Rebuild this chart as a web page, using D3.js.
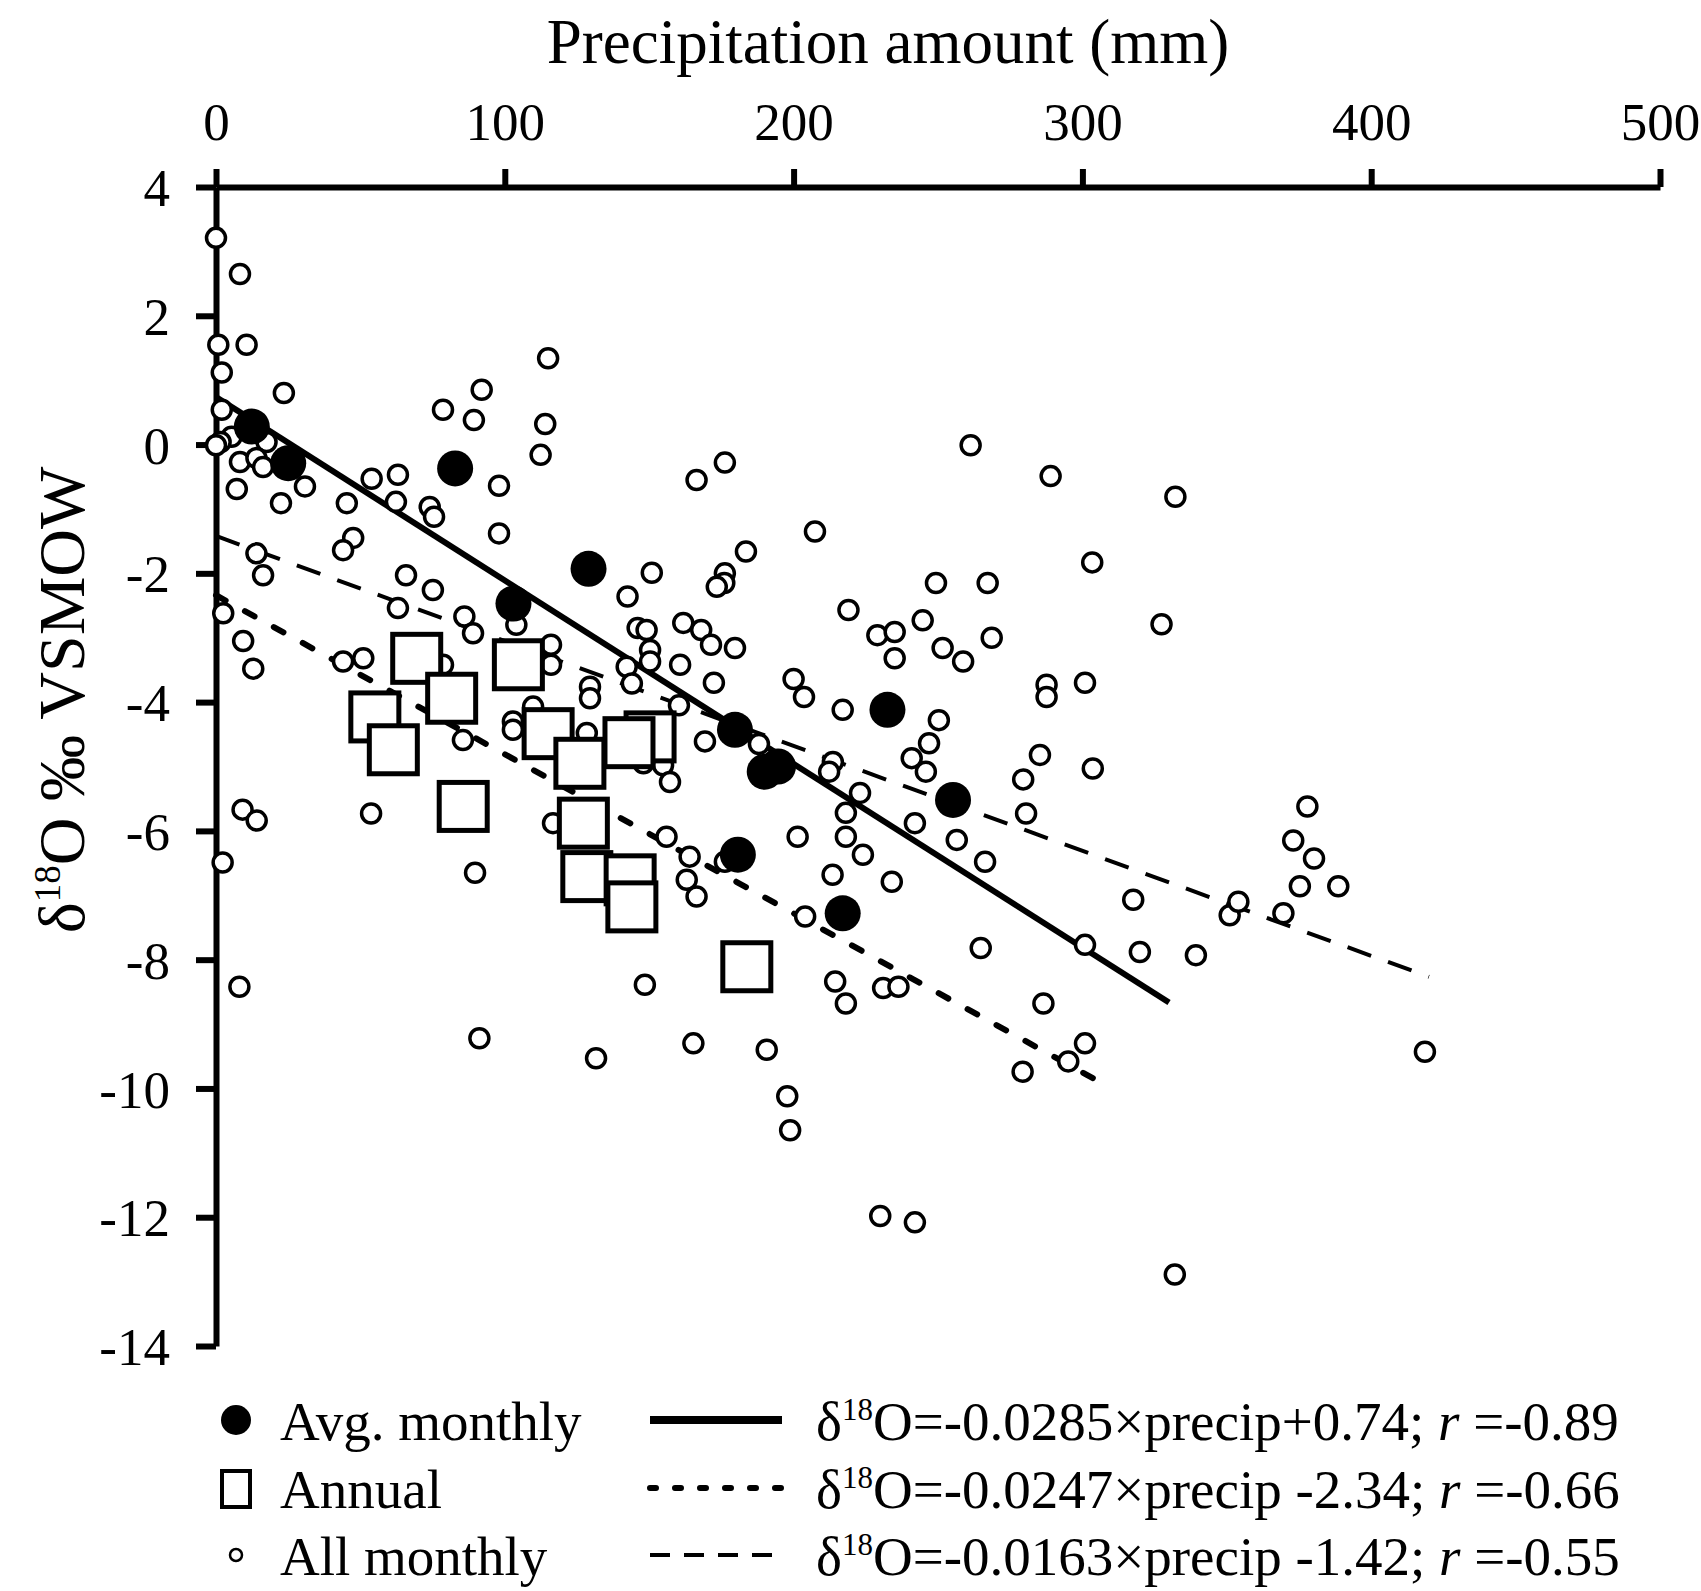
<!DOCTYPE html>
<html>
<head>
<meta charset="utf-8">
<script src="https://cdn.jsdelivr.net/npm/d3@7"></script>
<style>
  body { margin: 0; background: #fff; }
  svg { display: block; font-family: "Liberation Serif", "Times New Roman", serif; }
</style>
</head>
<body>
<svg id="chart" width="1701" height="1591"></svg>
<script>
// data: [precip mm, d18O permil]
const avgMonthly = [
  [12.4, 0.28], [25, -0.29], [82.8, -0.37], [129, -1.93], [103, -2.47],
  [179.7, -4.43], [190, -5.08], [194.6, -5.0], [232.5, -4.12], [255.2, -5.52],
  [180.7, -6.37], [217, -7.28]
];

const annual = [
  [69.5, -3.32], [81.6, -3.94], [104.7, -3.42], [55, -4.23], [61.4, -4.74],
  [85.6, -5.62], [115, -4.49], [126, -4.95], [127.2, -5.88], [150.3, -4.54],
  [143, -4.63], [128.4, -6.71], [143.4, -6.76], [144, -7.18], [183.8, -8.11]
];

const allMonthly = [
  [0, 3.21], [8.3, 2.65], [0.8, 1.55], [10.6, 1.55], [2, 1.12], [23.5, 0.80], [2, 0.54],
  [5.4, 0.12], [1.6, 0.04], [0, -0.01], [17.5, 0.04], [8.3, -0.27], [14, -0.21], [16.3, -0.35],
  [7.2, -0.69], [30.8, -0.65], [22.5, -0.91], [14, -1.69], [16.3, -2.03], [2.5, -2.62],
  [9.4, -3.05], [12.9, -3.48], [9.2, -5.67], [14.1, -5.84], [2.3, -6.49], [8.1, -8.42],
  [45.3, -0.91], [53.9, -0.53], [63, -0.47], [62.3, -0.89], [74, -0.97], [75.5, -1.12],
  [78.6, 0.54], [92, 0.85], [89.3, 0.38], [98, -0.64], [98, -1.38], [47.5, -1.45], [44, -1.64],
  [65.8, -2.03], [75.1, -2.26], [63, -2.54], [86, -2.67], [89, -2.93], [44, -3.37], [51, -3.32],
  [78.6, -3.42], [85.5, -4.59], [53.7, -5.73], [89.7, -6.65], [91.2, -9.22],
  [115, 1.34], [114, 0.32], [112.4, -0.16], [104, -2.80], [116, -3.11], [116, -3.42],
  [129.5, -3.76], [129.5, -3.94], [109.8, -4.07], [102.8, -4.30], [102.8, -4.43], [128.4, -4.48],
  [116.7, -5.88], [131.6, -9.53], [150.9, -1.99], [142.5, -2.36], [146, -2.85], [149.1, -2.88],
  [150.3, -3.19], [150.3, -3.37], [142.2, -3.45], [144, -3.71], [148, -4.95], [154.8, -4.98],
  [157.2, -5.24], [156, -6.09], [148.5, -8.39],
  [166.4, -0.55], [176.2, -0.28], [183.5, -1.66], [176.2, -2.0], [176, -2.15], [173.4, -2.21],
  [161.8, -2.77], [168, -2.88], [171.4, -3.11], [179.7, -3.16], [160.7, -3.42], [172.4, -3.70],
  [160.3, -4.05], [169.3, -4.61], [164, -6.40], [163, -6.76], [166.4, -7.02], [176.2, -6.48],
  [165.3, -9.30], [190.7, -9.40], [197.8, -10.12], [198.8, -10.65], [188, -4.65],
  [207.4, -1.35], [200, -3.64], [203.6, -3.92], [201.4, -6.09], [204, -7.33], [219, -2.57],
  [217, -4.12], [213.6, -4.93], [212.3, -5.08], [223, -5.41], [218.1, -5.72], [218.1, -6.09],
  [224, -6.37], [213.5, -6.68], [214.4, -8.34], [218.1, -8.68], [229, -2.96], [235, -2.91],
  [235, -3.32], [234, -6.79], [231, -8.44], [236.3, -8.42], [230, -11.98], [242, -12.08],
  [244.7, -2.73], [249.3, -2.15], [251.6, -3.16], [258.7, -3.37], [250.3, -4.28], [246.9, -4.64],
  [240.9, -4.87], [245.8, -5.08], [242, -5.88], [256.5, -6.14],
  [261.3, -0.01], [267.2, -2.15], [268.6, -3.00], [266.3, -6.48], [264.8, -7.82], [279.5, -5.20],
  [280.5, -5.73], [285.3, -4.82], [287.6, -3.73], [287.6, -3.92], [289, -0.49], [286.5, -8.68],
  [279.3, -9.74], [295.1, -9.58], [300.9, -7.77], [300.9, -9.30], [300.9, -3.70], [303.4, -1.83],
  [303.6, -5.03], [317.6, -7.07], [319.9, -7.88], [327.4, -2.79], [332.2, -0.81], [332, -12.89],
  [339.3, -7.93], [351, -7.31], [354, -7.10], [369.6, -7.28], [373, -6.15], [375.3, -6.86],
  [377.9, -5.62], [380.2, -6.43], [388.6, -6.86], [418.6, -9.43]
];

// regression lines: slope, intercept, last x plotted, legend text
const fitNames = ["avg", "annual", "all"];
const fitSlope = [-0.0285, -0.0247, -0.0163];
const fitIntercept = [0.74, -2.34, -1.42];
const fitXmax = [330, 305, 420];
const fitR = ["-0.89", "-0.66", "-0.55"];
const fitEqn = ["=-0.0285×precip+0.74; ", "=-0.0247×precip -2.34; ", "=-0.0163×precip -1.42; "];

const xTicks = [0, 100, 200, 300, 400, 500];
const yTicks = [4, 2, 0, -2, -4, -6, -8, -10, -12, -14];
const seriesNames = ["Avg. monthly", "Annual", "All monthly"];

const svg = d3.select("#chart");

const x = d3.scaleLinear().domain([0, 500]).range([216, 1660]);
const y = d3.scaleLinear().domain([-14, 4]).range([1346, 187]);

// line styles
const lineStyle = {
  avg: { width: 6, dash: null, cap: "butt" },
  annual: { width: 6, dash: "11,22", cap: "round" },
  all: { width: 4, dash: "25,18", cap: "butt" }
};

// axes
const xAxis = d3.axisTop(x).tickValues(xTicks).tickSize(18).tickSizeOuter(0).tickPadding(29)
  .tickFormat(d => String(d));
const yAxis = d3.axisLeft(y).tickValues(yTicks).tickSize(20).tickSizeOuter(0).tickPadding(26)
  .tickFormat(d => String(d));

const gx = svg.append("g").attr("transform", `translate(0,${y(4)})`).call(xAxis);
const gy = svg.append("g").attr("transform", `translate(${x(0)},0)`).call(yAxis);

[gx, gy].forEach(g => {
  g.select(".domain").attr("stroke", "#000").attr("stroke-width", 6);
  g.selectAll(".tick line").attr("stroke", "#000").attr("stroke-width", 6);
  g.selectAll(".tick text").attr("fill", "#000")
    .style("font-family", "'Liberation Serif', serif").style("font-size", "53px");
});
gy.selectAll(".tick text").attr("dy", "0.35em");

// titles
svg.append("text")
  .attr("x", 888).attr("y", 63)
  .attr("text-anchor", "middle")
  .style("font-size", "63px")
  .text("Precipitation amount (mm)");

const ylab = svg.append("text")
  .attr("transform", "translate(84,700) rotate(-90)")
  .attr("text-anchor", "middle")
  .style("font-size", "66px");
ylab.append("tspan").text("δ");
ylab.append("tspan").attr("dy", -24).style("font-size", "37px").text("18");
ylab.append("tspan").attr("dy", 24).text("O ‰ VSMOW");

// regression lines
const plot = svg.append("g");
fitNames.forEach((name, i) => {
  const pts = [0, fitXmax[i]].map(px => [px, fitSlope[i] * px + fitIntercept[i]]);
  const st = lineStyle[name];
  plot.append("path")
    .datum(pts)
    .attr("d", d3.line().x(d => x(d[0])).y(d => y(d[1])))
    .attr("fill", "none")
    .attr("stroke", "#000")
    .attr("stroke-width", st.width)
    .attr("stroke-linecap", st.cap)
    .attr("stroke-dasharray", st.dash);
});

// points
plot.selectAll(".allm").data(allMonthly).join("circle")
  .attr("class", "allm")
  .attr("cx", d => x(d[0])).attr("cy", d => y(d[1])).attr("r", 9.5)
  .attr("fill", "#fff").attr("stroke", "#000").attr("stroke-width", 3.5);

const sq = 48;
plot.selectAll(".ann").data(annual).join("rect")
  .attr("class", "ann")
  .attr("x", d => x(d[0]) - sq / 2).attr("y", d => y(d[1]) - sq / 2)
  .attr("width", sq).attr("height", sq)
  .attr("fill", "#fff").attr("stroke", "#000").attr("stroke-width", 5);

plot.selectAll(".avgm").data(avgMonthly).join("circle")
  .attr("class", "avgm")
  .attr("cx", d => x(d[0])).attr("cy", d => y(d[1])).attr("r", 18)
  .attr("fill", "#000");

// legend
const rowBase = [1440, 1508, 1575];
const legend = svg.append("g").style("font-size", "55px");

seriesNames.forEach((name, i) => {
  const cy = rowBase[i] - 20;
  if (i === 0) {
    legend.append("circle").attr("cx", 236).attr("cy", cy).attr("r", 15).attr("fill", "#000");
  } else if (i === 1) {
    legend.append("rect").attr("x", 222).attr("y", cy - 17).attr("width", 28).attr("height", 36)
      .attr("fill", "#fff").attr("stroke", "#000").attr("stroke-width", 4);
  } else {
    legend.append("circle").attr("cx", 236).attr("cy", cy).attr("r", 6)
      .attr("fill", "#fff").attr("stroke", "#000").attr("stroke-width", 2.5);
  }
  legend.append("text").attr("x", 280).attr("y", rowBase[i]).text(name);

  const st = lineStyle[fitNames[i]];
  const legDash = [null, "6,19", "20,14"][i];
  legend.append("line")
    .attr("x1", 650).attr("x2", 782).attr("y1", cy).attr("y2", cy)
    .attr("stroke", "#000")
    .attr("stroke-width", i === 0 ? 8 : st.width)
    .attr("stroke-linecap", st.cap)
    .attr("stroke-dasharray", legDash);

  const t = legend.append("text").attr("x", 816).attr("y", rowBase[i]);
  t.append("tspan").text("δ");
  t.append("tspan").attr("dy", -20).style("font-size", "31px").text("18");
  t.append("tspan").attr("dy", 20).text("O" + fitEqn[i]);
  t.append("tspan").style("font-style", "italic").text("r");
  t.append("tspan").text(" =" + fitR[i]);
});
</script>
</body>
</html>
